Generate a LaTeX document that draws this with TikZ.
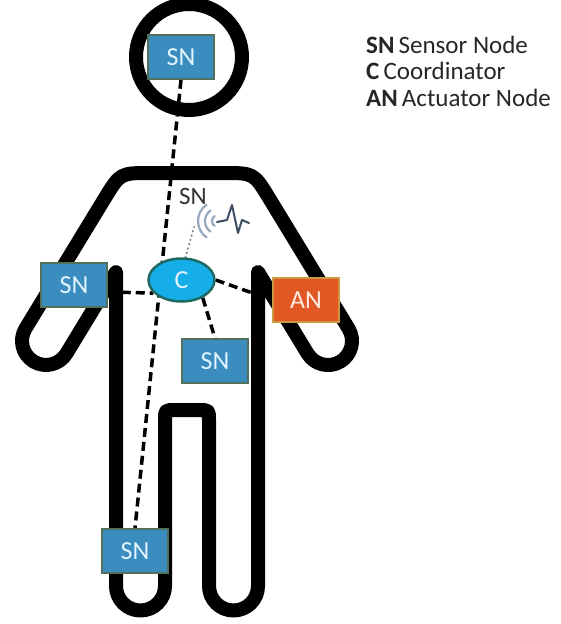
\documentclass[tikz,border=0pt]{standalone}
\usepackage{fontspec}
\setmainfont{Carlito}
\usetikzlibrary{shapes.geometric,backgrounds}

\definecolor{snblue}{RGB}{58,141,190}
\definecolor{snedge}{RGB}{82,112,92}
\definecolor{snfont}{RGB}{226,244,255}
\definecolor{anred}{RGB}{226,88,36}
\definecolor{anedge}{RGB}{204,152,64}
\definecolor{anfont}{RGB}{255,236,228}
\definecolor{cblue}{RGB}{22,174,232}
\definecolor{cedge}{RGB}{30,105,100}
\definecolor{wavegray}{RGB}{150,168,188}
\definecolor{dotgray}{RGB}{135,140,148}
\definecolor{ecgline}{RGB}{60,78,100}
\definecolor{labelgray}{RGB}{50,50,50}

\tikzset{
  body/.style={line width=14pt, line join=round},
  sensor/.style={rectangle, draw=snedge, fill=snblue, line width=1.5pt,
    minimum width=66pt, minimum height=44pt, inner sep=0pt,
    text=snfont, font=\fontsize{26}{26}\selectfont},
  actuator/.style={sensor, draw=anedge, fill=anred, text=anfont},
  hub/.style={ellipse, draw=cedge, fill=cblue, line width=2.5pt,
    minimum width=66pt, minimum height=43pt, inner sep=0pt,
    text=snfont, font=\fontsize{26}{26}\selectfont},
  link/.style={line width=3.5pt, dash pattern=on 9pt off 5pt},
  radiolink/.style={draw=dotgray, line width=2.2pt, line cap=round, dash pattern=on 0.5pt off 4pt},
  wave/.style={draw=wavegray, line width=2.2pt, line cap=round},
  legend/.style={anchor=base west, inner sep=0pt, text=black!85,
    font=\fontsize{25}{25}\selectfont}
}

\begin{document}
\begin{tikzpicture}[x=1pt,y=1pt]
\useasboundingbox (0,0) rectangle (560,-624);

% nodes on the body
\node[sensor] (headsn) at (181,-57) {SN};
\node[sensor] (armsn) at (74,-285) {SN};
\node[hub] (c) at (181.5,-280) {C};
\node[sensor] (chestsn) at (215,-361) {SN};
\node[actuator] (an) at (306,-300) {AN};
\node[sensor] (legsn) at (135,-551) {SN};
\node[text=labelgray, inner sep=0pt, font=\fontsize{25}{25}\selectfont] (ecgsn) at (193,-196) {SN};
\coordinate (ant) at (194,-227);

\begin{pgfonlayer}{background}
% head
\draw[body] (189,-57) circle[radius=53];
% trunk, legs and arms in one stroke
\draw[body] (116,-272) -- (116,-586) arc[start angle=180, end angle=360, radius=24.5]
  -- (165,-420) .. controls (165,-410) .. (175,-410) -- (199,-410)
  .. controls (209,-410) .. (209,-420)
  -- (209,-586) arc[start angle=180, end angle=360, radius=24.5] -- (258,-272)
  -- (307.5,-353.5) arc[start angle=211.3, end angle=391.3, radius=24]
  -- (269.4,-198.6) .. controls (253.8,-173) .. (223.8,-173)
  -- (150.2,-173) .. controls (120.2,-173) .. (104.6,-198.6)
  -- (25.5,-328.5) arc[start angle=148.7, end angle=328.7, radius=24] -- cycle;
% links to the coordinator
\draw[link] (headsn.south) -- (legsn.north);
\draw[link] ([yshift=-7pt]armsn.east) -- (c.205);
\draw[link] (c.east) -- (an.west);
\draw[link] (c.-40) -- (chestsn.north);
\draw[radiolink] (c.80) -- (ant);
\end{pgfonlayer}

% radio waves and ecg trace
\foreach \r in {6,13,20}
  \draw[wave] (218,-221) ++(125:\r) arc[start angle=125, end angle=235, radius=\r];
\draw[ecgline, line width=2pt, line join=round, line cap=round]
  (217,-222) -- (227,-220) -- (232,-205) -- (238,-233) -- (242,-220) -- (249,-223);

% key
\foreach \ab/\txt [count=\i] in {SN/Sensor Node, C/Coordinator, AN/Actuator Node}
  \node[legend] (key\i) at (366,{-53-26.5*(\i-1)}) {\textbf{\ab}\,\txt};
\end{tikzpicture}
\end{document}
